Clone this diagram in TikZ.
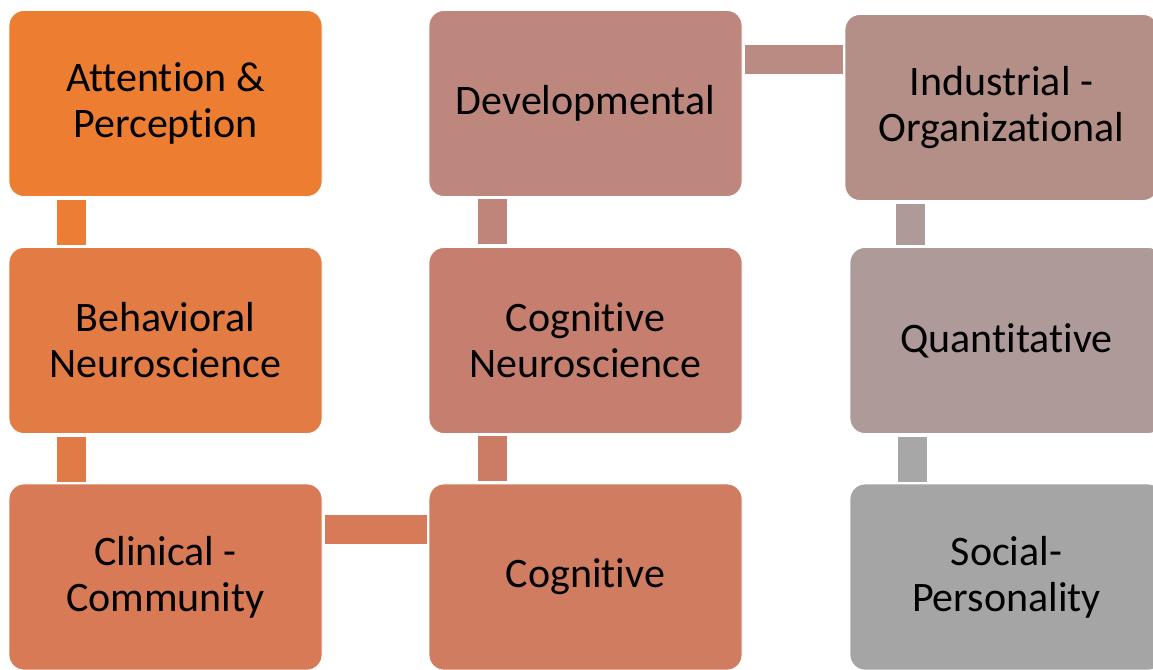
\documentclass[tikz,border=0pt]{standalone}
\usepackage{fontspec}
\setmainfont{Carlito}[Ligatures={NoCommon}]
\definecolor{k1}{HTML}{ED7D31}
\definecolor{k2}{HTML}{E37B45}
\definecolor{k3}{HTML}{D87A55}
\definecolor{k4}{HTML}{CF7C60}
\definecolor{k5}{HTML}{C67F6F}
\definecolor{k6}{HTML}{BD877E}
\definecolor{k7}{HTML}{B48F87}
\definecolor{k8}{HTML}{AE9A99}
\definecolor{k9}{HTML}{A5A5A5}
\definecolor{l1}{HTML}{EC7D35}
\definecolor{l2}{HTML}{E07A47}
\definecolor{l3}{HTML}{D67A57}
\definecolor{l4}{HTML}{CC7C64}
\definecolor{l5}{HTML}{BF847A}
\definecolor{l6}{HTML}{B98B83}
\definecolor{l7}{HTML}{AF9A9A}
\definecolor{l8}{HTML}{A7A7A7}
\begin{document}
\begin{tikzpicture}[x=1pt,y=-1pt,
  box/.style={rectangle, rounded corners=15pt, minimum width=313pt, minimum height=186pt,
    inner sep=0pt, draw=white, line width=0.8pt, align=center, text=black,
    font=\fontsize{42}{46}\selectfont},
  conn/.style={line width=29pt, shorten <=3pt, shorten >=2pt}]
\useasboundingbox (0,0) rectangle (1153,669);
\clip (0,0) rectangle (1153,669);
\fill[white] (0,0) rectangle (1153,669);
\node[box, fill=k1] (A) at (165.5,103.5) {Attention \&\\Perception};
\node[box, fill=k2] (B) at (165.5,340.5) {Behavioral\\Neuroscience};
\node[box, fill=k3] (C) at (165.5,577) {Clinical -\\Community};
\node[box, fill=k4] (Cog) at (585.5,577) {Cognitive};
\node[box, fill=k5] (CN) at (585.5,340.5) {Cognitive\\Neuroscience};
\node[box, fill=k6] (Dev) at (585.5,103.5) {Developmental};
\node[box, fill=k7] (Ind) at (1001.5,107.5) {Industrial -\\Organizational};
\node[box, fill=k8] (Q) at (1006.5,340.5) {Quantitative};
\node[box, fill=k9] (S) at (1006.5,577) {Social-\\Personality};
\draw[conn, l1] ([xshift=62.5pt]A.south west) -- ([xshift=62.5pt]B.north west);
\draw[conn, l2] ([xshift=62.5pt]B.south west) -- ([xshift=62.5pt]C.north west);
\draw[conn, l3] ([yshift=-45.5pt]C.north east) -- ([yshift=-45.5pt]Cog.north west);
\draw[conn, l4] ([xshift=63.5pt]Cog.north west) -- ([xshift=63.5pt]CN.south west);
\draw[conn, l5] ([xshift=63.5pt]CN.north west) -- ([xshift=63.5pt]Dev.south west);
\coordinate (p) at ([yshift=-49pt]Dev.north east);
\draw[conn, l6] (p) -- (p -| Ind.west);
\draw[conn, l7] ([xshift=65.5pt]Ind.south west) -- ([xshift=60.5pt]Q.north west);
\draw[conn, l8] ([xshift=62.5pt]Q.south west) -- ([xshift=62.5pt]S.north west);
\end{tikzpicture}
\end{document}
